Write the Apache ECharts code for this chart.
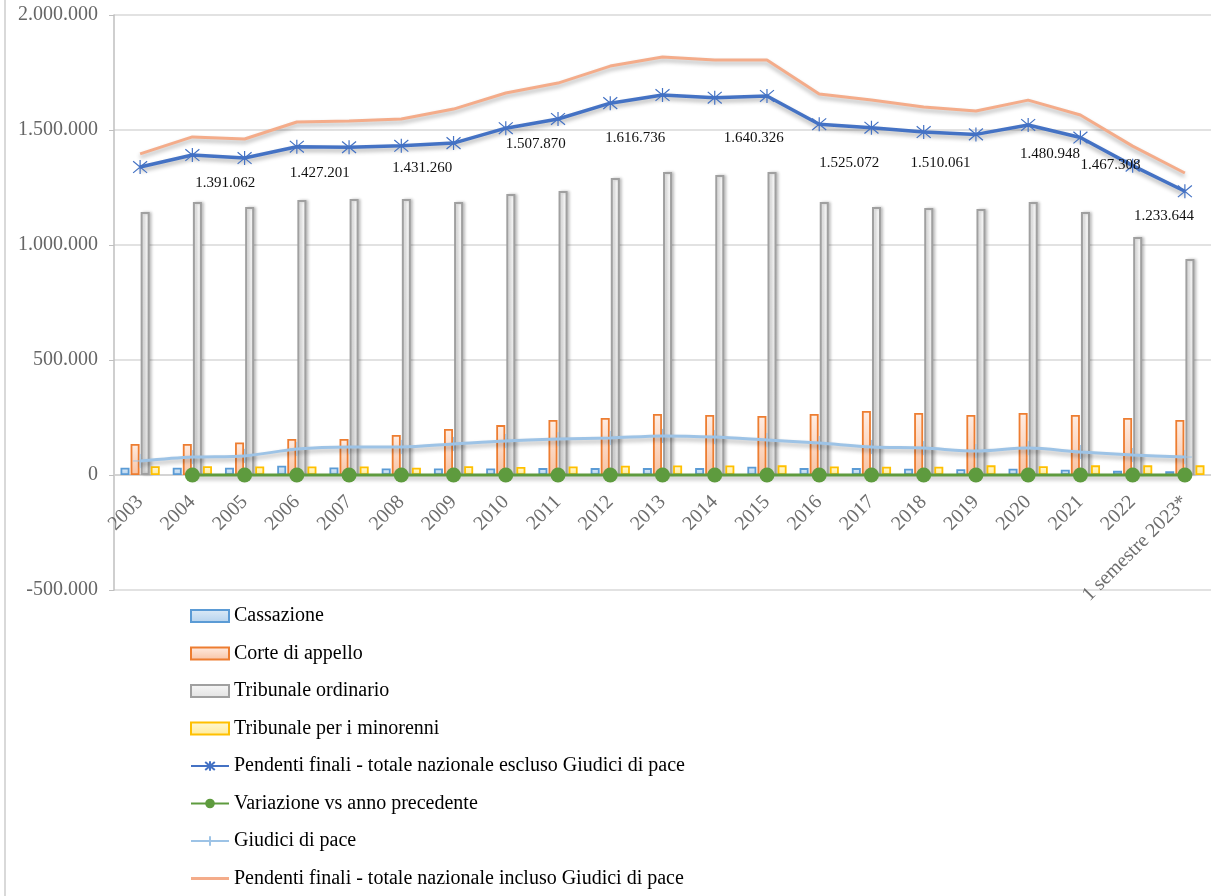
<!DOCTYPE html>
<html>
<head>
<meta charset="utf-8">
<script src="https://cdn.jsdelivr.net/npm/echarts@6/dist/echarts.min.js"></script>
<style>
  html, body { margin: 0; padding: 0; background: #fff; }
  #chart { width: 1211px; height: 896px; }
</style>
</head>
<body>
<div id="chart"></div>
<script>
// ---------------- DATA ----------------
const categories = ['2003','2004','2005','2006','2007','2008','2009','2010','2011','2012','2013','2014','2015','2016','2017','2018','2019','2020','2021','2022','1 semestre 2023*'];

const cassazione = [32000,32000,32000,40000,33000,28000,28000,28000,30000,30000,30000,30000,36000,30000,30000,27000,25000,27000,23000,18000,16000];
const corteAppello = [135000,135000,141000,157000,157000,174000,200000,217000,239000,248000,265000,261000,257000,265000,278000,270000,261000,270000,261000,248000,239000];
const tribunaleOrdinario = [1143000,1187000,1165000,1196000,1200000,1200000,1187000,1222000,1235000,1291000,1317000,1304000,1317000,1187000,1165000,1161000,1157000,1187000,1143000,1035000,939000];
const tribunaleMinorenni = [38000,38000,37000,37000,37000,32000,38000,35000,37000,40000,41000,41000,42000,37000,36000,36000,42000,38000,42000,42000,42000];
const pendentiEscluso = [1339000,1391062,1378000,1427201,1425000,1431260,1443000,1507870,1548000,1616736,1652000,1640326,1648000,1525072,1510061,1491000,1480948,1522000,1467308,1345000,1233644];
const variazione = [null,0.039,-0.009,0.036,-0.001,0.004,0.008,0.045,0.027,0.044,0.022,-0.007,0.005,-0.075,-0.010,-0.013,-0.007,0.028,-0.036,-0.083,-0.083];
const giudiciPace = [61000,78000,83000,113000,122000,122000,135000,148000,156000,161000,170000,165000,152000,139000,122000,117000,104000,117000,100000,87000,78000];
const pendentiIncluso = [1396000,1470000,1461000,1535000,1539000,1548000,1591000,1661000,1704000,1778000,1817000,1804000,1804000,1657000,1630000,1600000,1583000,1630000,1565000,1430000,1313000];

const yTicks = { min: -500000, max: 2000000, interval: 500000 };
// indices of the blue-line points that carry a data label
const labelledIdx = [1,3,5,7,9,11,13,14,16,18,20];

// ---------------- LAYOUT / STYLE ----------------
const labelOffsets = {1:[33,28],3:[23,26],5:[21,22],7:[30,16],9:[25,35],11:[39,40],13:[30,39],14:[69,35],16:[74,20],18:[30,28],20:[-21,25]};
const FONT = 'Liberation Serif';
const CHART_H = 896, GRID_TOP = 15, GRID_BOTTOM = 306;
const plotH = CHART_H - GRID_TOP - GRID_BOTTOM;
// distance from bottom of the plot to the zero line (so x labels sit on the zero axis)
const zeroOffset = plotH * (0 - yTicks.min) / (yTicks.max - yTicks.min);

function fmt(v) {
  const s = Math.abs(Math.round(v)).toString().replace(/\B(?=(\d{3})+(?!\d))/g, '.');
  return (v < 0 ? '-' : '') + s;
}

function grad(top, bottom) {
  return new echarts.graphic.LinearGradient(0, 0, 0, 1, [
    { offset: 0, color: top }, { offset: 1, color: bottom }
  ]);
}

const barCommon = { type: 'bar', barWidth: 9, barGap: '12%' };
const lineShadow = { shadowColor: 'rgba(0,0,0,0.3)', shadowBlur: 4, shadowOffsetY: 3 };

const asterisk = 'path://M0,0 L10,10 M10,0 L0,10 M5,-1 L5,11';
const plus = 'path://M5,0 L5,10 M0,5 L10,5';
const flatLine = 'path://M0,0 L38,0 L38,3 L0,3 Z';

const blueData = pendentiEscluso.map((v, i) => {
  if (labelledIdx.indexOf(i) >= 0) {
    return { value: v, label: { show: true, position: 'inside', offset: labelOffsets[i] } };
  }
  return v;
});

const chart = echarts.init(document.getElementById('chart'), null, { renderer: 'canvas' });

const option = {
  backgroundColor: '#ffffff',
  animation: false,
  textStyle: { fontFamily: FONT },
  graphic: [
    { type: 'line', shape: { x1: 5, y1: 0, x2: 5, y2: 896 }, style: { stroke: '#D9D9D9', lineWidth: 2 } }
  ],
  grid: { left: 114, right: 0, top: GRID_TOP, bottom: GRID_BOTTOM, containLabel: false },
  xAxis: {
    type: 'category',
    data: categories,
    offset: -zeroOffset,
    axisLine: { onZero: false, lineStyle: { color: '#D0D0D0', width: 1.5 } },
    axisTick: { show: false },
    axisLabel: { rotate: 45, fontSize: 20, color: '#6E6E6E', fontFamily: FONT, margin: 24, interval: 0 }
  },
  yAxis: {
    type: 'value',
    min: yTicks.min, max: yTicks.max, interval: yTicks.interval,
    axisLine: { show: true, lineStyle: { color: '#BFBFBF', width: 1.5 } },
    axisTick: { show: true, length: 5, lineStyle: { color: '#BFBFBF' } },
    splitLine: { lineStyle: { color: '#D9D9D9', width: 1.5 } },
    axisLabel: { fontSize: 20, color: '#666666', fontFamily: FONT, margin: 16, formatter: fmt }
  },
  legend: {
    orient: 'vertical',
    left: 190, top: 606, height: 300, padding: 0,
    itemWidth: 38, itemHeight: 12, itemGap: 17.5,
    textStyle: { fontSize: 20, color: '#000', fontFamily: FONT, lineHeight: 20 },
    data: [
      { name: 'Cassazione', icon: 'rect' },
      { name: 'Corte di appello', icon: 'rect' },
      { name: 'Tribunale ordinario', icon: 'rect' },
      { name: 'Tribunale per i minorenni', icon: 'rect' },
      { name: 'Pendenti finali - totale nazionale escluso Giudici di pace' },
      { name: 'Variazione vs anno precedente' },
      { name: 'Giudici di pace' },
      { name: 'Pendenti finali - totale nazionale incluso Giudici di pace', icon: flatLine }
    ]
  },
  series: [
    Object.assign({}, barCommon, {
      name: 'Cassazione', data: cassazione,
      itemStyle: { color: grad('#DDEBF7', '#B4D2EE'), borderColor: '#5B9BD5', borderWidth: 1.8 }
    }),
    Object.assign({}, barCommon, {
      name: 'Corte di appello', data: corteAppello,
      itemStyle: { color: grad('#FFEDE3', '#F8C3A4'), borderColor: '#ED7D31', borderWidth: 1.8 }
    }),
    Object.assign({}, barCommon, {
      name: 'Tribunale ordinario', data: tribunaleOrdinario,
      itemStyle: { color: grad('#F7F7F7', '#E2E2E2'), borderColor: '#A0A0A0', borderWidth: 2,
                   shadowColor: 'rgba(0,0,0,0.2)', shadowBlur: 3, shadowOffsetX: 2 }
    }),
    Object.assign({}, barCommon, {
      name: 'Tribunale per i minorenni', data: tribunaleMinorenni,
      itemStyle: { color: grad('#FFF8D6', '#FFEB99'), borderColor: '#FFC000', borderWidth: 1.8 }
    }),
    {
      name: 'Giudici di pace', type: 'line', data: giudiciPace, smooth: 0.3,
      symbol: plus, symbolSize: 14,
      itemStyle: { color: '#9DC3E6', borderColor: '#9DC3E6', borderWidth: 1 },
      lineStyle: Object.assign({ color: '#9DC3E6', width: 3 }, lineShadow), z: 3
    },
    {
      name: 'Pendenti finali - totale nazionale incluso Giudici di pace', type: 'line', data: pendentiIncluso,
      symbol: 'none',
      itemStyle: { color: '#F4AC8A' },
      lineStyle: Object.assign({ color: '#F4AC8A', width: 3 }, lineShadow), z: 3
    },
    {
      name: 'Pendenti finali - totale nazionale escluso Giudici di pace', type: 'line', data: blueData,
      symbol: asterisk, symbolSize: 14,
      itemStyle: { color: '#4472C4', borderColor: '#4472C4', borderWidth: 1.2 },
      lineStyle: Object.assign({ color: '#4472C4', width: 3.5 }, lineShadow),
      label: { show: false, fontSize: 15, color: '#111', fontFamily: FONT, formatter: p => fmt(p.value) },
      z: 4
    },
    {
      name: 'Variazione vs anno precedente', type: 'line', data: variazione,
      symbol: 'circle', symbolSize: 15,
      itemStyle: { color: '#5E9B3E', borderWidth: 0 },
      lineStyle: Object.assign({ color: '#5E9B3E', width: 3 }, lineShadow), z: 5
    }
  ]
};

chart.setOption(option);
</script>
</body>
</html>
